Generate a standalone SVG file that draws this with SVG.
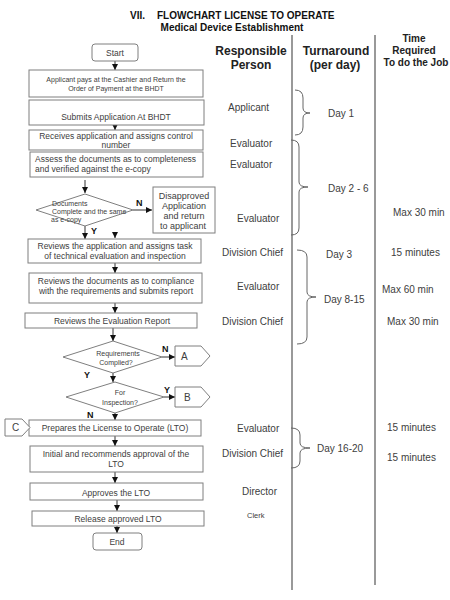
<svg xmlns="http://www.w3.org/2000/svg" width="450" height="600" viewBox="0 0 450 600">
<style>
text{font-family:"Liberation Sans",Arial,sans-serif;fill:#404040}
.t{font-weight:bold;font-size:10px;fill:#111}
.h{font-weight:bold;font-size:12px;fill:#222;text-anchor:middle}
.h2{font-weight:bold;font-size:10px;fill:#222;text-anchor:middle}
.box{fill:#fff;stroke:#7f7f7f;stroke-width:1}
.b{font-size:8.5px;text-anchor:middle}
.s{font-size:7px;text-anchor:middle}
.r{font-size:10px}
.lbl{font-weight:bold;font-size:9px;fill:#111}
.ln{stroke:#333;stroke-width:1;fill:none}
.col{stroke:#555;stroke-width:1.2;fill:none}
.br{stroke:#666;stroke-width:1;fill:none}
</style>
<defs>
<marker id="ah" viewBox="0 0 6 6" refX="6" refY="3" markerWidth="6" markerHeight="6" markerUnits="userSpaceOnUse" orient="auto">
<path d="M0,0 L6,3 L0,6 Z" fill="#111"/>
</marker>
</defs>

<g id="title">
<text class="t" x="130" y="19">VII.</text>
<text class="t" x="157" y="19">FLOWCHART LICENSE TO OPERATE</text>
<text class="t" x="232" y="31" style="text-anchor:middle">Medical Device Establishment</text>
</g>

<g id="headers">
<text class="h" x="251" y="55">Responsible</text>
<text class="h" x="251" y="68.5">Person</text>
<text class="h" x="336" y="55">Turnaround</text>
<text class="h" x="335" y="69">(per day)</text>
<text class="h2" x="414" y="42">Time</text>
<text class="h2" x="414" y="54">Required</text>
<text class="h2" x="416" y="66">To do the Job</text>
</g>

<g id="columns">
<line class="col" x1="292" y1="35" x2="292" y2="590"/>
<line class="col" x1="375" y1="35" x2="375" y2="585"/>
</g>

<g id="connectors">
<line class="ln" x1="115" y1="61" x2="115" y2="70" marker-end="url(#ah)"/>
<line class="ln" x1="115" y1="115" x2="115" y2="130" marker-end="url(#ah)"/>
<line class="ln" x1="85" y1="180" x2="85" y2="193" marker-end="url(#ah)"/>
<line class="ln" x1="133" y1="210" x2="152" y2="210" marker-end="url(#ah)"/>
<line class="ln" x1="85" y1="226" x2="85" y2="239" marker-end="url(#ah)"/>
<line class="ln" x1="115" y1="232" x2="115" y2="238" marker-end="url(#ah)"/>
<line class="ln" x1="115" y1="263" x2="115" y2="273" marker-end="url(#ah)"/>
<line class="ln" x1="115" y1="303" x2="115" y2="313" marker-end="url(#ah)"/>
<line class="ln" x1="113" y1="328" x2="113" y2="341" marker-end="url(#ah)"/>
<line class="ln" x1="162" y1="357" x2="175" y2="357" marker-end="url(#ah)"/>
<line class="ln" x1="113" y1="373" x2="113" y2="382" marker-end="url(#ah)"/>
<line class="ln" x1="164" y1="397" x2="175" y2="397" marker-end="url(#ah)"/>
<line class="ln" x1="115" y1="413" x2="115" y2="420" marker-end="url(#ah)"/>
<line class="ln" x1="115" y1="436" x2="115" y2="446" marker-end="url(#ah)"/>
<line class="ln" x1="115" y1="472" x2="115" y2="483" marker-end="url(#ah)"/>
<line class="ln" x1="117" y1="500" x2="117" y2="511" marker-end="url(#ah)"/>
<line class="ln" x1="117" y1="526" x2="117" y2="533" marker-end="url(#ah)"/>
<text class="lbl" x="136" y="206">N</text>
<text class="lbl" x="91" y="234">Y</text>
<text class="lbl" x="162" y="352">N</text>
<text class="lbl" x="84" y="378">Y</text>
<text class="lbl" x="164" y="393">Y</text>
<text class="lbl" x="87" y="418">N</text>
</g>

<g id="start">
<rect class="box" x="92" y="44" width="46" height="17" rx="3"/>
<text class="b" x="115" y="56">Start</text>
</g>

<g id="pay">
<rect class="box" x="29" y="70" width="174" height="27"/>
<text class="s" x="116" y="82">Applicant pays at the Cashier and Return the</text>
<text class="s" x="116" y="91">Order of Payment at the BHDT</text>
</g>

<g id="submit">
<rect class="box" x="29" y="100" width="175" height="25"/>
<text class="b" x="116" y="120">Submits Application At BHDT</text>
</g>

<g id="receive">
<rect class="box" x="29" y="130" width="174" height="20"/>
<text class="b" x="116" y="139">Receives application and assigns control</text>
<text class="b" x="116" y="148">number</text>
</g>

<g id="assess">
<rect class="box" x="30" y="152" width="173" height="25"/>
<text class="b" x="35" y="162" style="text-anchor:start">Assess the documents as to completeness</text>
<text class="b" x="35" y="172" style="text-anchor:start">and verified against the e-copy</text>
</g>

<g id="docs-decision">
<polygon class="box" points="85,194 133,210 85,226 36,210"/>
<text class="s" x="52" y="206" style="text-anchor:start">Documents</text>
<text class="s" x="52" y="214" style="text-anchor:start">Complete and the same</text>
<text class="s" x="51" y="222" style="text-anchor:start">as e-copy</text>
</g>

<g id="disapproved">
<rect class="box" x="153" y="187" width="62" height="46"/>
<text class="b" x="184" y="199" style="font-size:9px">Disapproved</text>
<text class="b" x="184" y="209" style="font-size:9px">Application</text>
<text class="b" x="184" y="219" style="font-size:9px">and return</text>
<text class="b" x="183" y="229" style="font-size:9px">to applicant</text>
</g>

<g id="review-app">
<rect class="box" x="28" y="239" width="173" height="24"/>
<text class="b" x="115" y="249">Reviews the application and assigns task</text>
<text class="b" x="115" y="259">of technical evaluation and inspection</text>
</g>

<g id="review-docs">
<rect class="box" x="29" y="273" width="173" height="30"/>
<text class="b" x="116" y="284">Reviews the documents as to compliance</text>
<text class="b" x="116" y="294">with the requirements and submits report</text>
</g>

<g id="review-report">
<rect class="box" x="25" y="313" width="172" height="15"/>
<text class="b" x="112" y="324">Reviews the Evaluation Report</text>
</g>

<g id="req-decision">
<polygon class="box" points="113,341 162,357 113,373 63,357"/>
<text class="s" x="118" y="356">Requirements</text>
<text class="s" x="116" y="365">Complied?</text>
</g>

<g id="conn-a">
<polygon class="box" points="175,346 201,346 210,356 201,366 175,366"/>
<text class="r" x="181" y="360">A</text>
</g>

<g id="insp-decision">
<polygon class="box" points="115,382 164,397 115,413 66,397"/>
<text class="s" x="120" y="395">For</text>
<text class="s" x="120" y="405">Inspection?</text>
</g>

<g id="conn-b">
<polygon class="box" points="175,387 201,387 210,397 201,407 175,407"/>
<text class="r" x="184" y="401">B</text>
</g>

<g id="prepare">
<rect class="box" x="29" y="420" width="172" height="16"/>
<text class="b" x="115" y="431">Prepares the License to Operate (LTO)</text>
</g>

<g id="conn-c">
<polygon class="box" points="5,419 22,419 30,427.5 22,436 5,436"/>
<text class="r" x="12" y="431">C</text>
</g>

<g id="initial">
<rect class="box" x="30" y="446" width="173" height="26"/>
<text class="b" x="116" y="457">Initial and recommends approval of the</text>
<text class="b" x="116" y="467">LTO</text>
</g>

<g id="approve">
<rect class="box" x="30" y="483" width="173" height="17"/>
<text class="b" x="116" y="496">Approves the LTO</text>
</g>

<g id="release">
<rect class="box" x="32" y="511" width="172" height="15"/>
<text class="b" x="118" y="522">Release approved LTO</text>
</g>

<g id="end">
<rect class="box" x="93" y="533" width="49" height="17" rx="3"/>
<text class="b" x="117" y="545">End</text>
</g>

<g id="responsible">
<text class="r" x="228" y="111">Applicant</text>
<text class="r" x="230" y="147">Evaluator</text>
<text class="r" x="230" y="168">Evaluator</text>
<text class="r" x="237" y="222">Evaluator</text>
<text class="r" x="222" y="256">Division Chief</text>
<text class="r" x="237" y="290">Evaluator</text>
<text class="r" x="222" y="325">Division Chief</text>
<text class="r" x="237" y="432">Evaluator</text>
<text class="r" x="222" y="457">Division Chief</text>
<text class="r" x="242" y="495">Director</text>
<text class="r" x="247" y="518" style="font-size:7.5px">Clerk</text>
</g>

<g id="turnaround">
<path class="br" d="M295,90 Q303,90 303,98 L303,108 Q303,113 310,113 Q303,113 303,118 L303,127 Q303,135 295,135"/>
<text class="r" x="328" y="117">Day 1</text>
<path class="br" d="M291,140 Q299,140 299,147 L299,182 Q299,187 308,187 Q299,187 299,192 L299,228 Q299,235 291,235"/>
<text class="r" x="328" y="192">Day 2 - 6</text>
<path class="br" d="M297,250 Q307,250 307,257 L307,292 Q307,297 316,297 Q307,297 307,302 L307,337 Q307,344 297,344"/>
<text class="r" x="326" y="258">Day 3</text>
<text class="r" x="324" y="303">Day 8-15</text>
<path class="br" d="M291,428 Q300,428 300,435 L300,443 Q300,448 310,448 Q300,448 300,453 L300,461 Q300,468 291,468"/>
<text class="r" x="317" y="452">Day 16-20</text>
</g>

<g id="time">
<text class="r" x="393" y="216">Max 30 min</text>
<text class="r" x="391" y="256">15 minutes</text>
<text class="r" x="382" y="293">Max 60 min</text>
<text class="r" x="387" y="325">Max 30 min</text>
<text class="r" x="387" y="431">15 minutes</text>
<text class="r" x="387" y="461">15 minutes</text>
</g>
</svg>
